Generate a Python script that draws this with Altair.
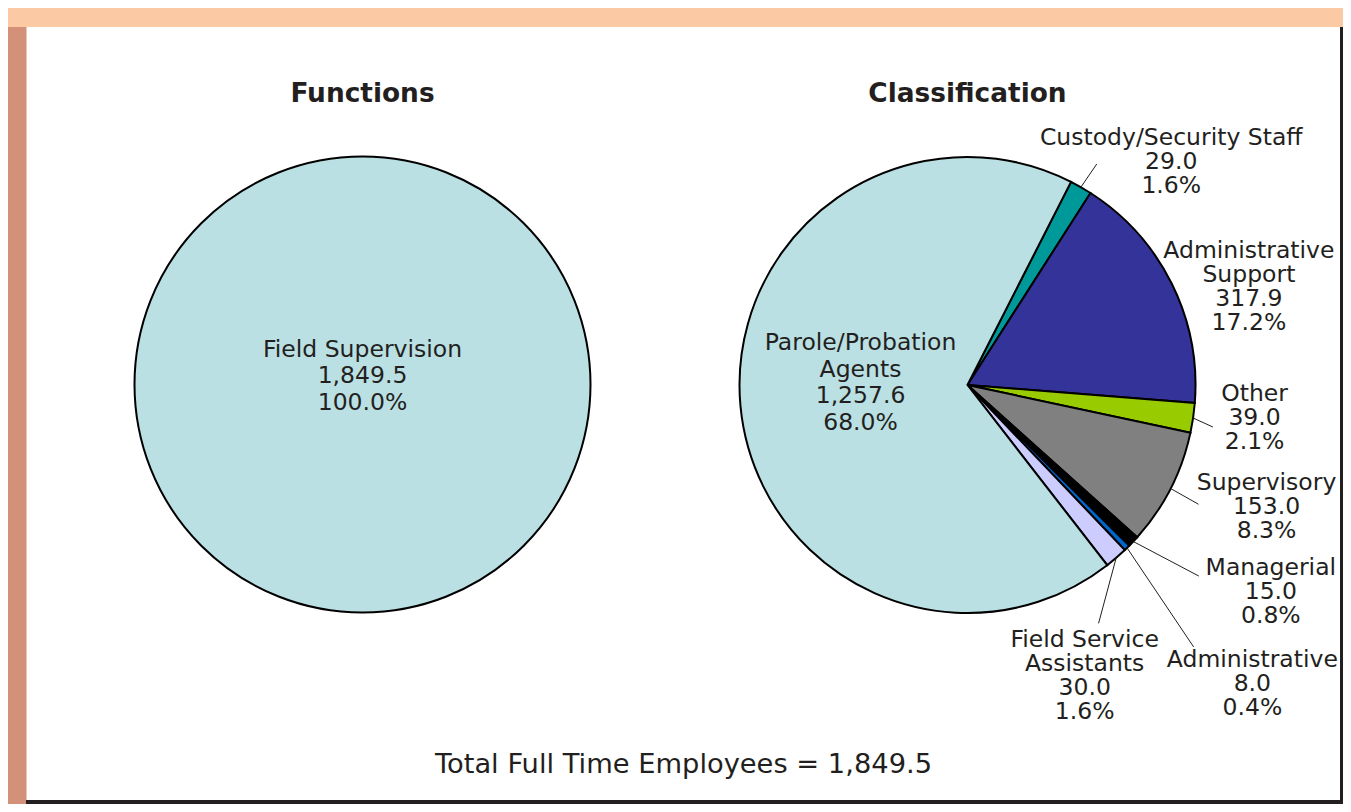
import math
import altair as alt
import pandas as pd

# ---------------- data ----------------
function_names = ["Field Supervision"]
function_values = [1849.5]

class_names = [
    "Custody/Security Staff",
    "Administrative Support",
    "Other",
    "Supervisory",
    "Managerial",
    "Administrative",
    "Field Service Assistants",
    "Parole/Probation Agents",
]
class_values = [29.0, 317.9, 39.0, 153.0, 15.0, 8.0, 30.0, 1257.6]

panel_titles = ["Functions", "Classification"]
total_caption = "Total Full Time Employees"

# ---------------- style / layout ----------------
FONT = "DejaVu Sans"
TEXT_COLOR = "#231F20"
function_colors = ["#BAE0E3"]
class_colors = ["#009999", "#333399", "#99CC00", "#808080",
                "#000000", "#0066CC", "#CCCCFF", "#BAE0E3"]
wrapped = {
    "Administrative Support": "Administrative\nSupport",
    "Field Service Assistants": "Field Service\nAssistants",
    "Parole/Probation Agents": "Parole/Probation\nAgents",
}
inside_labels = {"Field Supervision", "Parole/Probation Agents"}

LABEL_SIZE = 23.5
LH_OUT = 24.0
LH_IN = 26.7

W, H = 1335, 796
R = 228
LEFT_C = (354.5, 376.5)
RIGHT_C = (959.5, 377.0)
FUNC_START = 0.0     # degrees clockwise from 12 o'clock
CLASS_START = 27.0

# label block centre relative to each slice's mid angle: (angle shift in deg, radius px)
func_label_layout = {"Field Supervision": (180.0, 8.0)}
class_label_layout = {
    "Custody/Security Staff": (12.6, 302),
    "Administrative Support": (7.2, 298),
    "Other": (-1.7, 289),
    "Supervisory": (-4.8, 323),
    "Managerial": (-9.1, 367),
    "Administrative": (0.8, 413),
    "Field Service Assistants": (18.8, 314),
    "Parole/Probation Agents": (6.5, 107),
}
# leader line end relative to slice mid angle (start is on the rim at the mid angle)
class_leader_layout = {
    "Custody/Security Staff": (0.5, 256),
    "Other": (1.4, 249),
    "Supervisory": (0.3, 260),
    "Managerial": (-3.8, 300),
    "Administrative": (3.6, 346),
    "Field Service Assistants": (11.9, 272),
}


def polar(center, deg, r):
    a = math.radians(deg)
    return center[0] + r * math.sin(a), center[1] - r * math.cos(a)


def build(names, values, start, center, label_layout, leader_layout):
    total = sum(values)
    slices, labels, leaders = [], [], []
    cum = 0.0
    for i, (n, v) in enumerate(zip(names, values)):
        mid = start + 360.0 * (cum + v / 2.0) / total
        cum += v
        slices.append({"name": n, "value": v, "order": i})
        d, r = label_layout[n]
        lx, ly = polar(center, mid + d, r)
        txt = f"{wrapped.get(n, n)}\n{v:,.1f}\n{v / total * 100:.1f}%"
        nlines = txt.count("\n") + 1
        lh = LH_IN if n in inside_labels else LH_OUT
        # vega puts the first line at the anchor: move the anchor so the block is centred
        ly0 = ly - (nlines - 1) * lh / 2.0
        labels.append({"lx": lx, "ly": ly0, "text": txt,
                       "inside": n in inside_labels})
        if n in leader_layout:
            d2, r2 = leader_layout[n]
            sx, sy = polar(center, mid, R)
            ex, ey = polar(center, mid + d2, r2)
            leaders.append({"sx": sx, "sy": sy, "ex": ex, "ey": ey})
    return pd.DataFrame(slices), pd.DataFrame(labels), pd.DataFrame(leaders), total


f_sl, f_lb, f_ld, f_total = build(function_names, function_values, FUNC_START, LEFT_C,
                                  func_label_layout, {})
c_sl, c_lb, c_ld, c_total = build(class_names, class_values, CLASS_START, RIGHT_C,
                                  class_label_layout, class_leader_layout)
all_labels = pd.concat([f_lb, c_lb], ignore_index=True)
in_labels = all_labels[all_labels["inside"]].drop(columns="inside")
out_labels = all_labels[~all_labels["inside"]].drop(columns="inside")


def pie(df, total, start, center, names, colors):
    a0 = math.radians(start)
    return alt.Chart(df).mark_arc(outerRadius=R, stroke="black", strokeWidth=2).encode(
        x=alt.value(center[0]),
        y=alt.value(center[1]),
        theta=alt.Theta("value:Q", stack=True,
                        scale=alt.Scale(domain=[0, total], range=[a0, a0 + 2 * math.pi])),
        color=alt.Color("name:N", scale=alt.Scale(domain=names, range=colors), legend=None),
        order=alt.Order("order:Q"),
    )


def label_layer(df, lh):
    return alt.Chart(df).mark_text(
        font=FONT, fontSize=LABEL_SIZE, lineBreak="\n", lineHeight=lh,
        align="center", baseline="middle", color=TEXT_COLOR,
    ).encode(
        x=alt.X("lx:Q", scale=None, axis=None),
        y=alt.Y("ly:Q", scale=None, axis=None),
        text="text:N",
    )


leader_layer = alt.Chart(c_ld).mark_rule(color=TEXT_COLOR, strokeWidth=1).encode(
    x=alt.X("sx:Q", scale=None, axis=None),
    y=alt.Y("sy:Q", scale=None, axis=None),
    x2="ex:Q",
    y2="ey:Q",
)

titles_df = pd.DataFrame({"t": panel_titles, "tx": [LEFT_C[0], RIGHT_C[0]]})
titles_layer = alt.Chart(titles_df).mark_text(
    font=FONT, fontSize=26.4, fontWeight="bold", align="center",
    baseline="alphabetic", color=TEXT_COLOR,
).encode(
    x=alt.X("tx:Q", scale=None, axis=None),
    y=alt.value(94),
    text="t:N",
)

caption_df = pd.DataFrame({"t": [f"{total_caption} = {sum(class_values):,.1f}"]})
caption_layer = alt.Chart(caption_df).mark_text(
    font=FONT, fontSize=27.3, align="center", baseline="alphabetic", color=TEXT_COLOR,
).encode(x=alt.value(675.5), y=alt.value(765), text="t:N")

one = pd.DataFrame({"k": [0]})


def band(color, x0, x1, y0, y1):
    return alt.Chart(one).mark_rect(color=color).encode(
        x=alt.value(x0), x2=alt.value(x1), y=alt.value(y0), y2=alt.value(y1)
    )


decor = [
    band("#FCC9A5", 0, W, 0, 19),
    band("#D3917A", 0, 18, 19, H),
    band("#EFC4B2", 18, 19, 19, H),
    band("#231F20", W - 3, W, 19, H),
    band("#231F20", 18, W, H - 4, H),
]

chart = alt.layer(
    *decor,
    pie(f_sl, f_total, FUNC_START, LEFT_C, function_names, function_colors),
    pie(c_sl, c_total, CLASS_START, RIGHT_C, class_names, class_colors),
    leader_layer,
    label_layer(in_labels, LH_IN),
    label_layer(out_labels, LH_OUT),
    titles_layer,
    caption_layer,
).resolve_scale(
    theta="independent", color="independent"
).properties(
    width=W, height=H, padding=0,
    autosize=alt.AutoSizeParams(type="none"),
    background="white",
).configure_view(stroke=None)

chart.save("out.html", embed_options={"renderer": "svg", "actions": False})
